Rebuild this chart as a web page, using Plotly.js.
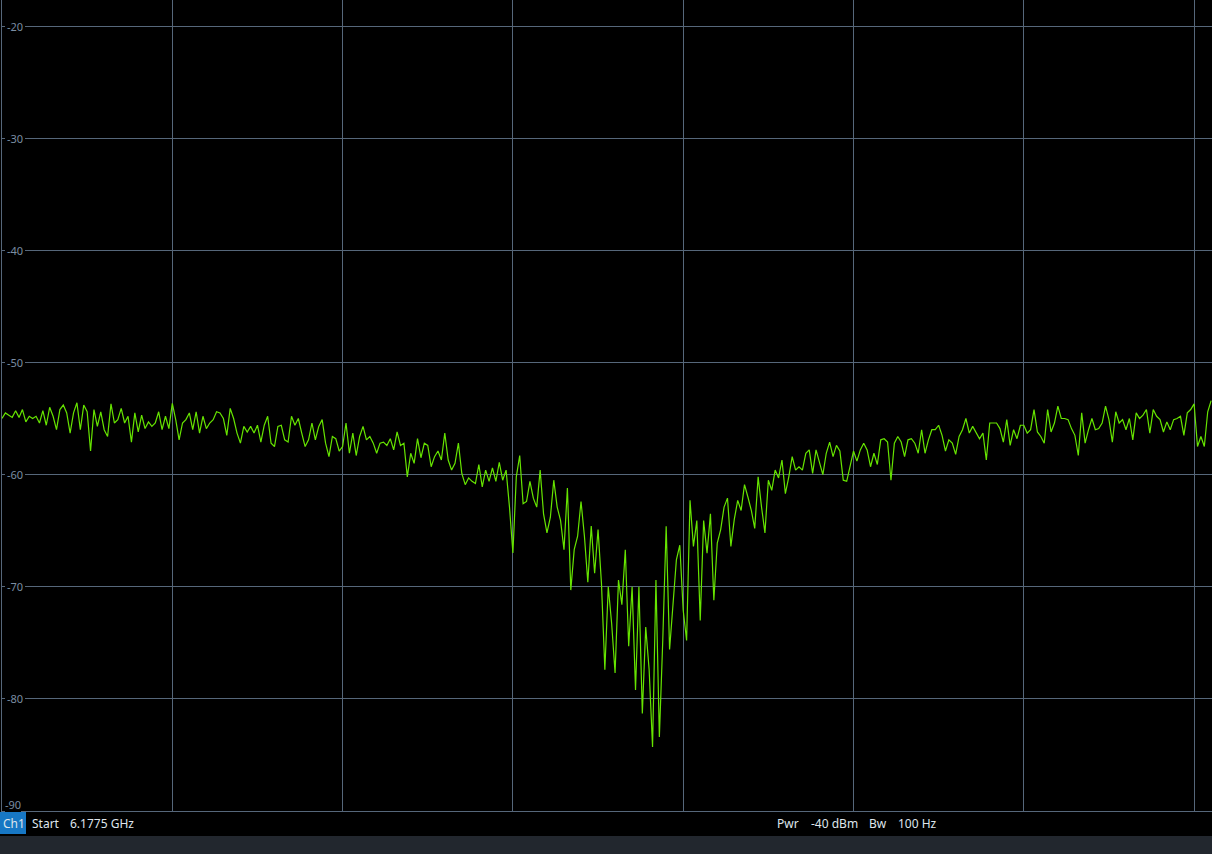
<!DOCTYPE html>
<html><head><meta charset="utf-8">
<script src="https://cdn.plot.ly/plotly-3.0.1.min.js"></script>
<style>html,body{margin:0;padding:0;background:#000;overflow:hidden}#chart{width:1212px;height:854px}</style>
</head><body><div id="chart"></div>
<script>
// ---- data ----
const CHANNEL = 'Ch1';
const START_LABEL = 'Start';
const START_VALUE = '6.1775 GHz';
const POWER_LABEL = 'Pwr';
const POWER_VALUE = '-40 dBm';
const BW_LABEL = 'Bw';
const BW_VALUE = '100 Hz';
const Y_TICKS = [-20, -30, -40, -50, -60, -70, -80, -90];
const POINT_STEP_KHZ = 0.2;   // frequency step between trace points (offset from start)
const TRACE_DBM = [
-55.0,-54.5,-54.7,-54.9,-54.3,-54.9,-54.2,-55.3,-54.8,-55.0,
-54.8,-55.4,-54.3,-55.6,-54.0,-54.8,-56.0,-54.2,-53.8,-54.5,
-56.3,-54.5,-53.6,-56.0,-53.8,-54.4,-57.9,-54.2,-55.7,-54.4,
-56.0,-56.6,-53.7,-55.4,-55.1,-54.1,-55.4,-54.8,-57.1,-54.5,
-56.2,-54.7,-55.9,-55.3,-55.7,-55.4,-54.4,-56.0,-54.8,-55.9,
-53.65,-55.1,-56.9,-55.4,-55.1,-54.5,-56.0,-54.4,-56.3,-54.8,
-55.9,-55.4,-55.1,-54.4,-54.5,-55.0,-56.5,-54.1,-55.0,-56.3,
-57.2,-55.7,-56.2,-55.7,-56.3,-55.6,-57.1,
-55.6,-54.8,-57.2,-57.5,-55.7,-55.6,-56.9,-57.1,-54.8,-55.6,
-55.0,-56.3,-57.5,-56.9,-55.4,-56.9,-55.7,-55.1,-57.2,-58.4,
-56.6,-56.8,-57.9,-57.5,-55.4,-58.1,-56.3,-58.3,-56.6,-55.7,
-56.9,-56.6,-57.2,-58.1,-57.2,-57.1,-57.4,-56.8,-57.8,-56.2,
-57.4,-57.2,-60.2,-58.1,-59.0,-56.8,-58.5,-57.2,-57.4,-59.3,
-58.4,-57.9,-58.7,-56.3,-58.7,-59.6,-59.0,-57.2,-59.9,-60.9,
-60.3,-60.6,-60.8,-59.1,-61.1,-59.6,-60.6,-59.4,-60.6,-58.9,
-60.5,-59.6,-62.9,-67.0,-60.2,-58.3,-62.6,-62.4,-60.6,-62.1,
-62.9,-59.6,-63.5,-65.2,-63.8,-60.5,-62.9,-64.1,-66.7,-61.2,
-70.3,-66.7,-65.5,-62.4,-65.5,-69.6,-64.6,-68.8,-64.9,-69.7,
-77.4,-70.0,-73.3,-77.7,-69.4,-71.6,-66.7,-75.3,-70.0,-79.2,
-70.0,-81.3,-73.6,-77.4,-84.3,-69.4,-83.4,-74.8,-64.6,-75.6,
-71.2,-67.6,-66.3,-72.1,-74.8,-62.3,-66.4,-64.1,-73.0,-64.1,
-67.0,-63.5,-71.2,-66.1,
-64.9,-62.9,-62.1,-66.4,-64.0,-62.3,-63.2,-60.9,-62.0,-63.2,
-64.8,-60.2,-62.9,-65.2,-60.5,-61.4,-59.6,-60.3,-58.7,-61.7,
-60.2,-58.4,-59.6,-59.3,-59.6,-58.1,-57.8,-59.9,-57.8,-59.0,
-60.0,-58.1,-57.1,-58.4,-57.4,-57.9,-60.5,-60.6,-59.3,-57.9,
-58.8,-57.8,-57.2,-57.8,-59.3,-58.1,-59.1,-56.9,-56.8,-57.1,
-60.5,-57.2,-56.6,-57.1,-58.4,-56.9,-56.8,-57.2,-58.1,-56.0,
-58.1,-56.9,-56.0,-56.0,-55.6,-56.5,-57.9,-56.9,-57.2,-58.2,
-56.6,-56.0,-55.0,-56.3,-55.7,-56.3,-56.8,-56.3,-58.7,-55.4,
-55.4,-55.4,-55.9,-57.1,-55.1,-57.4,-56.0,-56.8,-55.6,-55.6,
-56.3,-56.0,-54.2,-56.2,-56.6,-57.2,-54.2,-56.2,-55.4,-53.9,
-55.0,-55.0,-55.1,-55.9,-56.5,-58.3,-54.5,-57.2,-56.0,-55.0,
-56.0,-55.9,-55.4,-53.9,-55.1,-57.1,-54.4,-55.4,-55.1,-56.0,
-55.0,-56.9,-54.5,-55.0,-54.7,-54.2,-56.3,-54.2,-54.8,-55.1,
-56.2,-55.3,-56.0,-55.1,-55.0,-54.8,-56.5,-54.5,-54.2,-53.7,
-57.5,-56.6,-57.5,-54.4,-53.4
];
const freqKHz = TRACE_DBM.map((_, i) => i * POINT_STEP_KHZ);

// ---- layout helpers ----
const W = 1212, H = 854;
const ML = 2, MB = 43;
const PW = W - ML, PH = H - MB;
const DIV_PX = 170.3;      // pixels per 10 kHz division
const DB_PX = 11.214;      // pixels per dB
const PX = x => (x - ML) / PW;
const PY = y => (PH - y) / PH;

const GRID = '#56677a';
const LABEL = '#7a8da2';
const TEXT = '#dfe5ec';
const FONT = 'Noto Sans, Open Sans, sans-serif';

const lastTick = Y_TICKS.length - 1;
const annotations = Y_TICKS.map((v, k) => ({
  xref: 'paper', yref: 'y', x: PX(5), y: v,
  xanchor: 'left', yanchor: k === lastTick ? 'bottom' : 'middle',
  yshift: k === lastTick ? -1 : 0,
  text: String(v), showarrow: false,
  bgcolor: '#000', borderpad: k === lastTick ? 0 : 2, borderwidth: 0,
  font: {family: FONT, size: 11, color: LABEL}
}));
const footer = [
  [CHANNEL, 3], [START_LABEL, 32], [START_VALUE, 70],
  [POWER_LABEL, 777], [POWER_VALUE, 811], [BW_LABEL, 869], [BW_VALUE, 898]
];
footer.forEach(([t, x]) => annotations.push({
  xref: 'paper', yref: 'paper', x: PX(x), y: PY(823),
  xanchor: 'left', yanchor: 'middle', text: t, showarrow: false,
  borderpad: 0, borderwidth: 0,
  font: {family: FONT, size: 12, color: TEXT}
}));

const layout = {
  width: W, height: H,
  margin: {l: ML, r: 0, t: 0, b: MB, pad: 0},
  paper_bgcolor: '#000', plot_bgcolor: '#000',
  showlegend: false, hovermode: false,
  xaxis: {
    range: [0, PW / DIV_PX * 10], tick0: 0, dtick: 10,
    showgrid: true, gridcolor: GRID, gridwidth: 1,
    showticklabels: false, ticks: '', zeroline: false,
    showline: true, linecolor: GRID, linewidth: 1, fixedrange: true
  },
  yaxis: {
    range: [-90, -90 + PH / DB_PX], tick0: -90, dtick: 10,
    showgrid: true, gridcolor: GRID, gridwidth: 1,
    showticklabels: false, ticks: '', zeroline: false,
    showline: true, linecolor: GRID, linewidth: 1, fixedrange: true
  },
  shapes: [
    {type: 'rect', xref: 'paper', yref: 'paper', x0: PX(0), x1: PX(W), y0: PY(H), y1: PY(836),
     fillcolor: '#22272e', line: {width: 0}, layer: 'above'},
    {type: 'rect', xref: 'paper', yref: 'paper', x0: PX(0), x1: PX(26), y0: PY(834), y1: PY(812),
     fillcolor: '#1777c4', line: {width: 0}, layer: 'below'}
  ],
  annotations: annotations
};

const data = [{
  type: 'scatter', mode: 'lines',
  x: freqKHz, y: TRACE_DBM,
  line: {color: '#66e400', width: 1.2},
  hoverinfo: 'skip'
}];

Plotly.newPlot('chart', data, layout, {displayModeBar: false, staticPlot: true});
</script>
</body></html>
